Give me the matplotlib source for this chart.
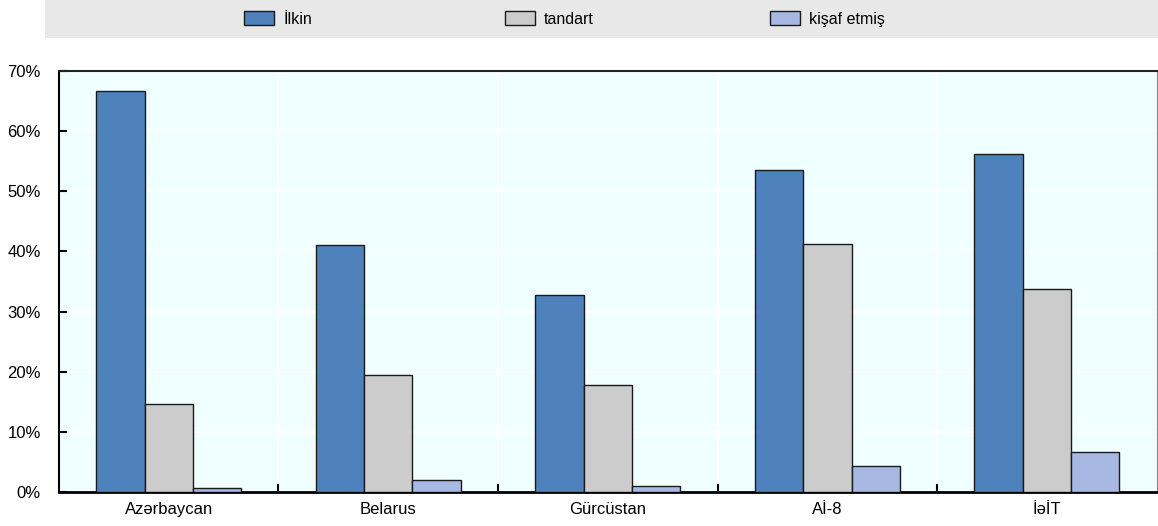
import numpy as np
import matplotlib.pyplot as plt
from matplotlib.patches import Rectangle

plt.rcParams['font.family'] = ['Liberation Sans', 'DejaVu Sans']

# data
categories = ["Azərbaycan", "Belarus", "Gürcüstan", "Aİ-8", "İəİT"]
ilkin = [66.6, 41.0, 32.8, 53.5, 56.2]
standart = [14.7, 19.5, 17.8, 41.2, 33.7]
inkisaf = [0.7, 2.0, 1.0, 4.3, 6.7]
series_names = ["İlkin", "tandart", "kişaf etmiş"]
colors = ["#4F81BD", "#CCCCCC", "#A7B9E3"]

fig = plt.figure(figsize=(11.58, 5.26), dpi=100)
ax = fig.add_axes([0.0509, 0.0646, 0.948, 0.8005])
ax.set_facecolor("#F0FFFF")

# grey band behind the legend
fig.patches.append(Rectangle((0.039, 0.928), 0.961, 0.072, transform=fig.transFigure,
                             facecolor="#E8E8E8", edgecolor="none", zorder=0))

x = np.arange(len(categories))
w = 0.22
handles = []
for i, vals in enumerate([ilkin, standart, inkisaf]):
    b = ax.bar(x + (i - 1) * w, vals, width=w, color=colors[i], edgecolor="#1a1a1a",
               linewidth=1.0, label=series_names[i], zorder=3)
    handles.append(b)

ax.set_xlim(-0.5, len(categories) - 0.5)
ax.set_ylim(0, 70)
ax.set_yticks(np.arange(0, 71, 10))
ax.set_yticklabels([f"{v}%" for v in range(0, 71, 10)])
ax.set_xticks(x)
ax.set_xticklabels(categories)
ax.set_xticks(np.arange(0.5, len(categories) - 0.5, 1), minor=True)

ax.grid(axis="y", color="white", linewidth=1.5, zorder=1)
ax.grid(axis="x", which="minor", color="white", linewidth=1.5, zorder=1)
ax.tick_params(axis="x", which="major", length=0, pad=7, labelsize=12)
ax.tick_params(axis="x", which="minor", direction="in", length=6, width=1.5, color="black")
ax.tick_params(axis="y", direction="in", length=6, width=1.5, pad=13, labelsize=12)

ax.spines["left"].set_linewidth(1.5)
ax.spines["bottom"].set_linewidth(2)
ax.spines["top"].set_linewidth(1.5)
ax.spines["top"].set_color("#222222")
ax.spines["right"].set_linewidth(0.8)
ax.spines["right"].set_color("#888888")

# one legend entry per slot, spread over the grey band
legend_x = [244, 505, 770]
for h, name, lx in zip(handles, series_names, legend_x):
    fig.legend(handles=[h], labels=[name], loc="center left",
               bbox_to_anchor=(lx / 1158, 0.964), frameon=False, borderpad=0,
               borderaxespad=0, handlelength=1.85, handleheight=1.0,
               handletextpad=0.6, fontsize=11.5)

fig.savefig("out.png", dpi=100)
